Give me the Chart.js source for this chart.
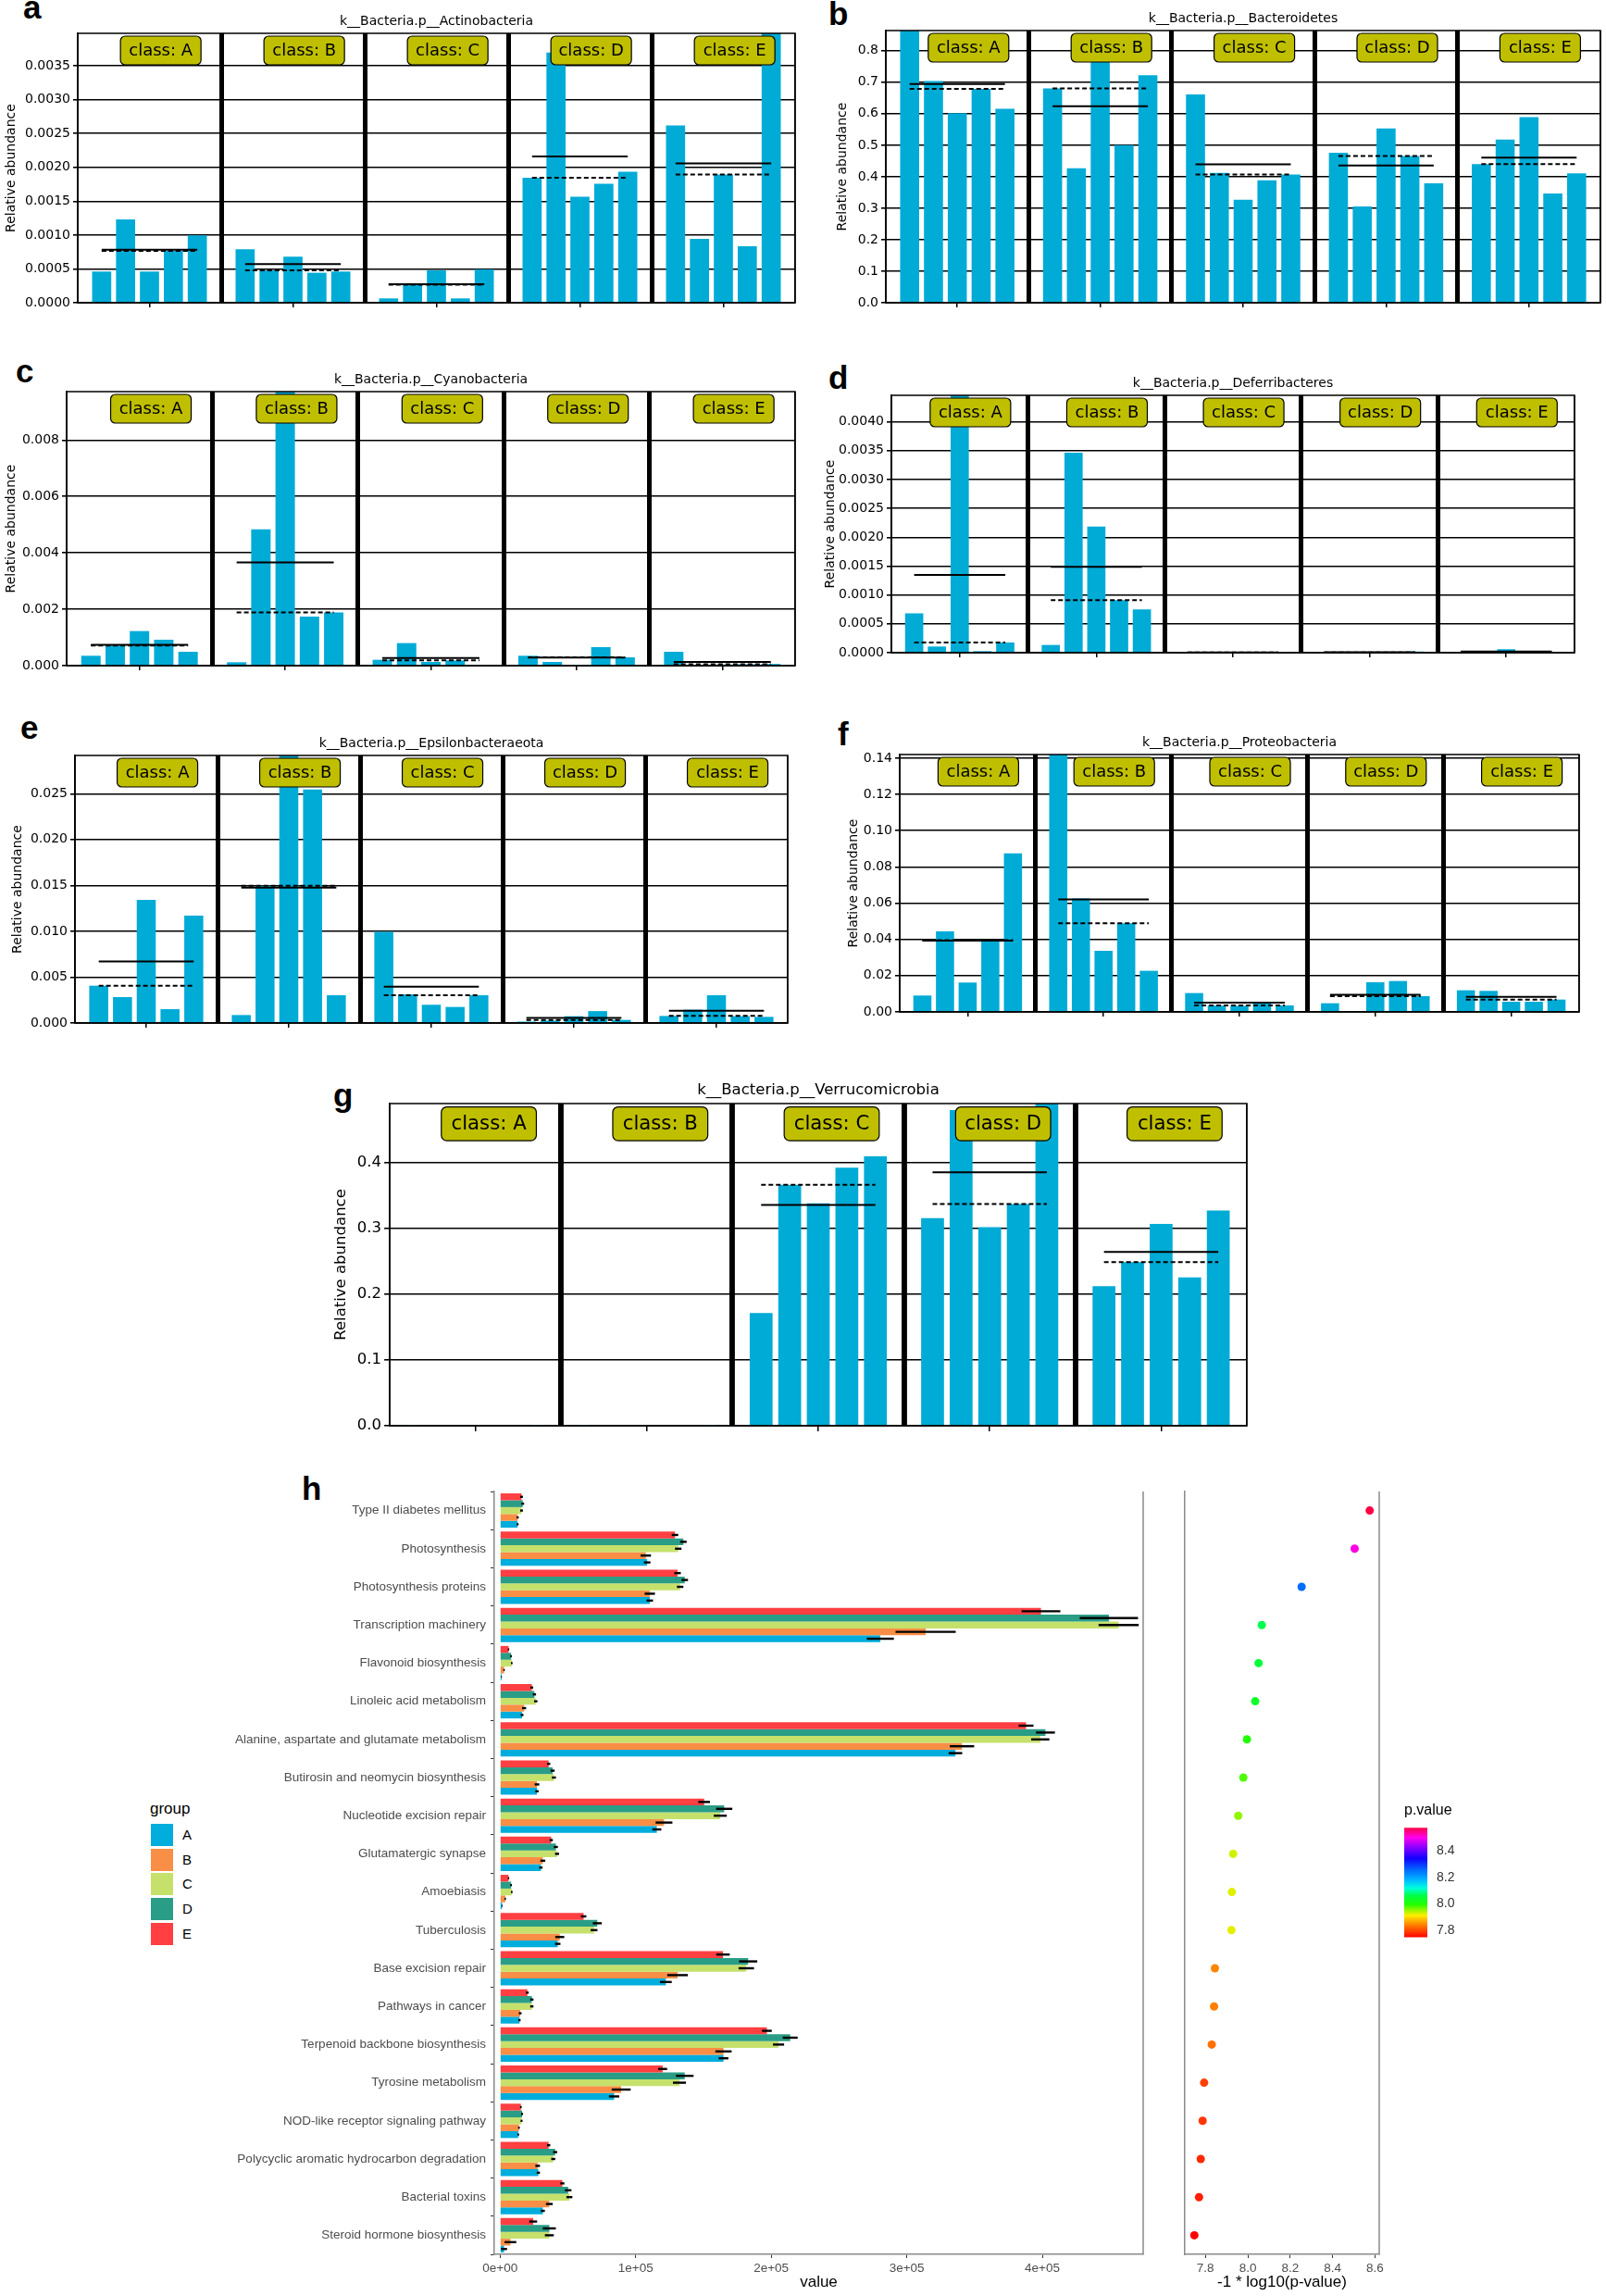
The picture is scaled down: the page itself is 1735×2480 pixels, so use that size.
<!DOCTYPE html>
<html>
<head>
<meta charset="utf-8">
<title>LEfSe phyla and KEGG pathways</title>
<script src="https://cdn.jsdelivr.net/npm/chart.js@4.4.1/dist/chart.umd.min.js"></script>
<style>
  html, body { margin: 0; padding: 0; background: #fff; }
  body { position: relative; width: 1735px; height: 2480px; overflow: hidden; }
  canvas { position: absolute; }
  .tag { position: absolute; font: bold 35px "Liberation Sans", Arial, sans-serif; line-height: 35px; color: #000; }
  #legend { position: absolute; left: 162px; top: 1944px; font-family: "Liberation Sans", Arial, sans-serif; color: #000; }
  #legend .ttl { position: absolute; left: 0; top: 0; font-size: 17px; line-height: 20px; }
  #legend .sw { position: absolute; left: 1px; width: 24px; height: 24px; }
  #legend .lb { position: absolute; left: 35px; font-size: 15px; line-height: 24px; }
</style>
</head>
<body>
<div class="tag" style="left:25px;top:-10px">a</div>
<div class="tag" style="left:895px;top:-3px">b</div>
<div class="tag" style="left:17px;top:383px">c</div>
<div class="tag" style="left:895px;top:390px">d</div>
<div class="tag" style="left:22px;top:768px">e</div>
<div class="tag" style="left:905px;top:775px">f</div>
<div class="tag" style="left:360px;top:1165px">g</div>
<div class="tag" style="left:326px;top:1590px">h</div>
<div id="legend"></div>

<script>
/* ------------------- DATA: LEfSe phyla (5 samples per class) ------------------- */
const CLASSES = ['A', 'B', 'C', 'D', 'E'];

const actinobacteria = [
  0.000461, 0.001232, 0.000461, 0.000767, 0.000995,
  0.000790, 0.000479, 0.000680, 0.000443, 0.000461,
  0.000064, 0.000265, 0.000479, 0.000064, 0.000493,
  0.001848, 0.003697, 0.001566, 0.001757, 0.001935,
  0.002620, 0.000945, 0.001894, 0.000835, 0.003990
];
const bacteroidetes = [
  0.869, 0.704, 0.602, 0.679, 0.616,
  0.680, 0.427, 0.789, 0.500, 0.722,
  0.661, 0.412, 0.327, 0.389, 0.407,
  0.476, 0.306, 0.553, 0.466, 0.379,
  0.440, 0.518, 0.589, 0.347, 0.411
];
const cyanobacteria = [
  0.000351, 0.000712, 0.001227, 0.000920, 0.000493,
  0.000120, 0.004833, 0.009720, 0.001742, 0.001885,
  0.000208, 0.000800, 0.000132, 0.000186, 0.000020,
  0.000351, 0.000132, 0.000010, 0.000658, 0.000296,
  0.000493, 0.000030, 0.000040, 0.000050, 0.000060
];
const deferribacteres = [
  0.000680, 0.000107, 0.005756, 0.000027, 0.000177,
  0.000134, 0.003464, 0.002185, 0.000910, 0.000750,
  0.000003, 0.000003, 0.000003, 0.000003, 0.000003,
  0.000005, 0.000005, 0.000005, 0.000005, 0.000020,
  0.000010, 0.000010, 0.000060, 0.000010, 0.000010
];
const epsilonbacteraeota = [
  0.00407, 0.00283, 0.01343, 0.00151, 0.01171,
  0.00087, 0.01497, 0.02946, 0.02547, 0.00303,
  0.00993, 0.00313, 0.00199, 0.00175, 0.00303,
  0.00015, 0.00027, 0.00074, 0.00130, 0.00034,
  0.00077, 0.00145, 0.00303, 0.00074, 0.00067
];
const proteobacteria = [
  0.00904, 0.04450, 0.01620, 0.03956, 0.08750,
  0.14238, 0.06258, 0.03377, 0.04894, 0.02268,
  0.01040, 0.00350, 0.00340, 0.00470, 0.00360,
  0.00478, 0.00050, 0.01637, 0.01705, 0.00870,
  0.01194, 0.01160, 0.00563, 0.00563, 0.00682
];
const verrucomicrobia = [
  0.0001, 0.0001, 0.0001, 0.0001, 0.0001,
  0.0001, 0.0001, 0.0001, 0.0001, 0.0001,
  0.1712, 0.3658, 0.3376, 0.3916, 0.4089,
  0.3151, 0.4792, 0.3015, 0.3367, 0.4900,
  0.2120, 0.2485, 0.3062, 0.2251, 0.3268
];

/* ------------------- DATA: KEGG pathways (panel h) ------------------- */
const PATHWAYS = [
  'Type II diabetes mellitus', 'Photosynthesis', 'Photosynthesis proteins',
  'Transcription machinery', 'Flavonoid biosynthesis', 'Linoleic acid metabolism',
  'Alanine, aspartate and glutamate metabolism', 'Butirosin and neomycin biosynthesis',
  'Nucleotide excision repair', 'Glutamatergic synapse', 'Amoebiasis', 'Tuberculosis',
  'Base excision repair', 'Pathways in cancer', 'Terpenoid backbone biosynthesis',
  'Tyrosine metabolism', 'NOD-like receptor signaling pathway',
  'Polycyclic aromatic hydrocarbon degradation', 'Bacterial toxins', 'Steroid hormone biosynthesis'
];
const groupA = [12900, 108500, 110400, 280500, 1000, 16200, 335900, 27200, 115600, 30100, 1400, 42500, 122300, 14300, 164800, 84100, 13400, 28200, 31500, 2900];
const groupB = [12900, 107500, 110400, 313900, 2900, 17700, 340700, 27200, 120900, 31500, 3800, 44000, 130900, 14800, 164800, 89300, 13900, 27700, 36300, 7600];
const groupC = [15800, 131400, 132800, 456300, 8600, 26300, 398500, 39700, 162400, 42000, 8600, 69300, 181600, 23400, 205400, 132300, 15800, 39200, 51100, 36300];
const groupD = [16700, 135200, 136200, 449100, 8100, 25300, 402300, 38700, 165300, 41100, 8100, 71700, 183000, 23400, 214000, 136200, 16200, 40600, 50200, 36300];
const groupE = [15800, 129000, 130900, 399000, 6200, 23400, 388000, 35800, 150500, 37700, 6200, 61600, 164400, 20100, 196800, 119900, 15300, 35800, 45900, 24400];
const errA = [700, 2400, 2400, 10000, 300, 1000, 5000, 1200, 3300, 1200, 300, 2000, 4300, 800, 3600, 3800, 600, 1200, 1500, 2200];
const errB = [800, 3800, 3800, 22200, 500, 1500, 9000, 1700, 6200, 1800, 500, 3300, 7600, 1000, 6000, 7000, 600, 1700, 2500, 4300];
const errC = [1000, 2400, 2400, 14800, 600, 1200, 6700, 1500, 4800, 1500, 600, 2500, 5700, 1200, 4100, 4800, 700, 1500, 2200, 3300];
const errD = [1000, 2400, 2400, 21500, 600, 1200, 7000, 1500, 6000, 1500, 600, 3300, 6700, 1200, 5500, 6500, 700, 1500, 2400, 4800];
const errE = [1000, 2400, 2400, 14300, 500, 1000, 5500, 1200, 4300, 1200, 500, 2000, 5000, 1000, 3600, 3300, 600, 1200, 1500, 2900];
const pValues = [8.575, 8.504, 8.254, 8.066, 8.051, 8.035, 7.996, 7.979, 7.955, 7.931, 7.925, 7.923, 7.845, 7.841, 7.830, 7.794, 7.787, 7.778, 7.770, 7.748];

const VALUE_TICKS = [0, 100000, 200000, 300000, 400000];
const PVALUE_TICKS = [7.8, 8.0, 8.2, 8.4, 8.6];
const COLORBAR_TICKS = [7.8, 8.0, 8.2, 8.4];

/* ------------------- STYLE ------------------- */
const SANS = '"DejaVu Sans", sans-serif';
const GG = '"Liberation Sans", Arial, sans-serif';
const BAR_BLUE = '#00abd6';
const BOX_FILL = '#bfbf00';
const AXIS_GREY = '#8a8a8a';
const GROUP_COLORS = { A: '#00addc', B: '#f98e46', C: '#c6e06c', D: '#2a9d86', E: '#ff3f42' };
const RAINBOW = [[0, '#ff0000'], [0.12, '#ff8800'], [0.2, '#ffee00'], [0.3, '#22ff00'], [0.38, '#00ff44'],
  [0.45, '#00ffdd'], [0.52, '#00bbff'], [0.62, '#0066ff'], [0.72, '#1100ff'], [0.82, '#8800ff'],
  [0.91, '#ff00ee'], [1, '#ff0044']];
const P_MIN = Math.min(...pValues), P_MAX = Math.max(...pValues);

const PANELS = [
  { title: 'k__Bacteria.p__Actinobacteria', values: actinobacteria, ymax: 0.00398, step: 0.0005, dec: 4, area: [84, 36, 859, 327], axisLeft: 0 },
  { title: 'k__Bacteria.p__Bacteroidetes', values: bacteroidetes, ymax: 0.864, step: 0.1, dec: 1, area: [957, 33, 1729, 327], axisLeft: 898 },
  { title: 'k__Bacteria.p__Cyanobacteria', values: cyanobacteria, ymax: 0.00972, step: 0.002, dec: 3, area: [72, 423, 859, 719], axisLeft: 0 },
  { title: 'k__Bacteria.p__Deferribacteres', values: deferribacteres, ymax: 0.00446, step: 0.0005, dec: 4, area: [963, 427, 1701, 705], axisLeft: 885 },
  { title: 'k__Bacteria.p__Epsilonbacteraeota', values: epsilonbacteraeota, ymax: 0.02917, step: 0.005, dec: 3, area: [81, 816, 851, 1105], axisLeft: 7 },
  { title: 'k__Bacteria.p__Proteobacteria', values: proteobacteria, ymax: 0.142, step: 0.02, dec: 2, area: [972, 815, 1706, 1093], axisLeft: 910 },
  { title: 'k__Bacteria.p__Verrucomicrobia', values: verrucomicrobia, ymax: 0.489, step: 0.1, dec: 1, area: [421, 1192, 1347, 1540], axisLeft: 355, scale: 1.18 }
];

/* ------------------- Helpers ------------------- */
function addCanvas(left, top, width, height) {
  const c = document.createElement('canvas');
  c.width = width;
  c.height = height;
  c.style.left = left + 'px';
  c.style.top = top + 'px';
  c.style.width = width + 'px';
  c.style.height = height + 'px';
  document.body.appendChild(c);
  return c;
}

function hexRgb(h) {
  const n = parseInt(h.slice(1), 16);
  return [n >> 16, (n >> 8) & 255, n & 255];
}

function colorFor(v) {
  const f = Math.min(1, Math.max(0, (v - P_MIN) / (P_MAX - P_MIN)));
  for (let i = 1; i < RAINBOW.length; i++) {
    const [f1, c1] = RAINBOW[i];
    if (f <= f1) {
      const [f0, c0] = RAINBOW[i - 1];
      const t = (f - f0) / (f1 - f0);
      const a = hexRgb(c0), b = hexRgb(c1);
      return `rgb(${a.map((x, k) => Math.round(x + (b[k] - x) * t)).join(',')})`;
    }
  }
  return RAINBOW[RAINBOW.length - 1][1];
}

function sci(v) {
  if (Math.abs(v) < 1e-9) return '0e+00';
  const e = Math.floor(Math.log10(v));
  const m = Math.round(v / Math.pow(10, e));
  return `${m}e+${String(e).padStart(2, '0')}`;
}

const fixedTicks = list => axis => { axis.ticks = list.map(value => ({ value })); };

/* ------------------- Plugins ------------------- */
// frame + "class: X" boxes on top of the LEfSe panels
const lefseDecor = {
  id: 'lefseDecor',
  afterDraw(chart, args, opts) {
    const { ctx, chartArea: a, scales: { x } } = chart;
    const s = opts.scale || 1;
    ctx.save();
    ctx.strokeStyle = '#000';
    ctx.lineWidth = 1.5;
    ctx.strokeRect(a.left, a.top, a.right - a.left, a.bottom - a.top);
    CLASSES.forEach((c, k) => {
      const cx = x.getPixelForValue(6 * k + 3.47);
      const w = 87 * s, h = 31 * s, y0 = a.top + 3 * s;
      ctx.beginPath();
      ctx.roundRect(cx - w / 2, y0, w, h, 5 * s);
      ctx.fillStyle = BOX_FILL;
      ctx.fill();
      ctx.lineWidth = 1.2;
      ctx.stroke();
      ctx.fillStyle = '#000';
      ctx.font = `${18 * s}px ${SANS}`;
      ctx.textAlign = 'center';
      ctx.textBaseline = 'middle';
      ctx.fillText('class: ' + c, cx, y0 + h / 2 + 1);
    });
    ctx.restore();
  }
};

const errorBars = {
  id: 'errorBars',
  afterDatasetsDraw(chart) {
    const { ctx, scales: { x } } = chart;
    ctx.save();
    ctx.strokeStyle = '#000';
    ctx.lineWidth = 2.4;
    chart.data.datasets.forEach((ds, i) => {
      chart.getDatasetMeta(i).data.forEach((bar, j) => {
        const v = ds.data[j], e = ds.errors[j];
        ctx.beginPath();
        ctx.moveTo(x.getPixelForValue(v - e), bar.y);
        ctx.lineTo(x.getPixelForValue(v + e), bar.y);
        ctx.stroke();
      });
    });
    ctx.restore();
  }
};

const rightBorder = {
  id: 'rightBorder',
  afterDraw(chart) {
    const { ctx, chartArea: a } = chart;
    ctx.save();
    ctx.strokeStyle = AXIS_GREY;
    ctx.lineWidth = 1.5;
    ctx.beginPath();
    ctx.moveTo(a.right, a.top);
    ctx.lineTo(a.right, a.bottom);
    ctx.stroke();
    ctx.restore();
  }
};

/* ------------------- LEfSe panels a-g ------------------- */
function drawLefse(p) {
  const s = p.scale || 1;
  const [L, T, R, B] = p.area;
  const titleBlock = Math.round(36 * s);
  const left = p.axisLeft, top = T - titleBlock;
  const cv = addCanvas(left, top, R + 6 - left, B + 18 - top);

  const slots = CLASSES.length * 6 + 1;
  const bars = Array(slots).fill(null);
  const means = Array(slots).fill(null);
  const medians = Array(slots).fill(null);
  CLASSES.forEach((c, k) => {
    const vals = p.values.slice(k * 5, k * 5 + 5);
    const mean = vals.reduce((a, b) => a + b, 0) / vals.length;
    const median = [...vals].sort((a, b) => a - b)[2];
    vals.forEach((v, j) => {
      const i = 6 * k + 1 + j;
      bars[i] = v; means[i] = mean; medians[i] = median;
    });
  });

  new Chart(cv, {
    type: 'bar',
    data: {
      labels: bars.map((_, i) => String(i)),
      datasets: [
        { type: 'line', data: means, borderColor: '#000', borderWidth: 2, pointRadius: 0, order: 1 },
        { type: 'line', data: medians, borderColor: '#000', borderWidth: 2, borderDash: [5, 3], pointRadius: 0, order: 1 },
        { data: bars, backgroundColor: BAR_BLUE, borderWidth: 0, barPercentage: 0.8, categoryPercentage: 1, order: 2 }
      ]
    },
    options: {
      responsive: false,
      animation: false,
      events: [],
      layout: { padding: { top: 0, right: 6, bottom: 10, left: 0 } },
      plugins: {
        legend: { display: false },
        tooltip: { enabled: false },
        title: {
          display: true, text: p.title, color: '#000', fullSize: false,
          font: { family: SANS, size: 14 * s, weight: 'normal' },
          padding: { top: titleBlock - 16.8 * s - 4.6, bottom: 4.6 }
        },
        lefseDecor: { scale: s }
      },
      scales: {
        x: {
          type: 'category',
          offset: false,
          grid: {
            offset: false,
            tickLength: 5 * s,
            tickWidth: 1.5,
            color: c => (c.index % 6 === 0 ? '#000' : 'rgba(0,0,0,0)'),
            lineWidth: c => (c.index % 6 === 0 && c.index > 0 && c.index < slots - 1 ? 5 * s : 1.5),
            tickColor: c => (c.index % 6 === 3 ? '#000' : 'rgba(0,0,0,0)')
          },
          ticks: { display: false, autoSkip: false },
          border: { color: '#000', width: 1.5 },
          afterFit: a => { a.height = 8; }
        },
        y: {
          min: 0,
          max: p.ymax,
          z: 1,
          ticks: {
            stepSize: p.step, includeBounds: false, color: '#000', padding: 3,
            font: { family: SANS, size: 14 * s },
            callback: v => v.toFixed(p.dec)
          },
          grid: { color: '#000', lineWidth: 1.6, tickLength: 5 * s, tickColor: '#000' },
          border: { color: '#000', width: 1.5 },
          title: {
            display: true, text: 'Relative abundance', color: '#000',
            font: { family: SANS, size: 14 * s }, padding: { top: 4, bottom: 0 }
          },
          afterFit: a => { a.width = L - left; }
        }
      }
    },
    plugins: [lefseDecor]
  });
}

/* ------------------- Panel h: grouped bars ------------------- */
function drawPathwayBars() {
  const cv = addCanvas(150, 1590, 1100, 890);
  const series = [
    ['E', groupE, errE], ['D', groupD, errD], ['C', groupC, errC], ['B', groupB, errB], ['A', groupA, errA]
  ];
  new Chart(cv, {
    type: 'bar',
    data: {
      labels: PATHWAYS,
      datasets: series.map(([g, vals, errs]) => ({
        label: g, data: vals, errors: errs, backgroundColor: GROUP_COLORS[g], borderWidth: 0,
        categoryPercentage: 0.9, barPercentage: 1
      }))
    },
    options: {
      indexAxis: 'y',
      responsive: false,
      animation: false,
      events: [],
      layout: { padding: { top: 21, right: 15, bottom: 0, left: 0 } },
      plugins: { legend: { display: false }, tooltip: { enabled: false } },
      scales: {
        x: {
          type: 'linear', min: -4300, max: 474400,
          afterBuildTicks: fixedTicks(VALUE_TICKS),
          ticks: { color: '#4d4d4d', padding: 3, font: { family: GG, size: 13.5 }, callback: v => sci(v) },
          grid: { drawOnChartArea: false, tickLength: 4, tickColor: '#333' },
          border: { color: AXIS_GREY, width: 1.5 },
          title: { display: true, text: 'value', color: '#000', font: { family: GG, size: 17 }, padding: { top: 0, bottom: 4 } },
          afterFit: a => { a.height = 45; }
        },
        y: {
          ticks: { color: '#4d4d4d', padding: 5, autoSkip: false, font: { family: GG, size: 13.5 } },
          grid: { drawOnChartArea: false, tickLength: 4, tickColor: '#333' },
          border: { color: AXIS_GREY, width: 1.5 },
          afterFit: a => { a.width = 384; }
        }
      }
    },
    plugins: [errorBars, rightBorder]
  });
}

/* ------------------- Panel h: p-value dots ------------------- */
function drawPValues() {
  const cv = addCanvas(1270, 1590, 230, 890);
  new Chart(cv, {
    type: 'scatter',
    data: {
      datasets: [{
        data: PATHWAYS.map((p, i) => ({ x: pValues[i], y: p })),
        pointBackgroundColor: pValues.map(colorFor),
        pointBorderWidth: 0,
        pointRadius: 4.5
      }]
    },
    options: {
      responsive: false,
      animation: false,
      events: [],
      layout: { padding: { top: 21, right: 10, bottom: 0, left: 0 } },
      plugins: { legend: { display: false }, tooltip: { enabled: false } },
      scales: {
        x: {
          type: 'linear', min: 7.703, max: 8.62,
          afterBuildTicks: fixedTicks(PVALUE_TICKS),
          ticks: { color: '#4d4d4d', padding: 3, font: { family: GG, size: 13.5 }, callback: v => v.toFixed(1) },
          grid: { drawOnChartArea: false, tickLength: 4, tickColor: '#333' },
          border: { color: AXIS_GREY, width: 1.5 },
          title: { display: true, text: '-1 * log10(p-value)', color: '#000', font: { family: GG, size: 17 }, padding: { top: 0, bottom: 4 } },
          afterFit: a => { a.height = 45; }
        },
        y: {
          type: 'category', labels: PATHWAYS, offset: true,
          ticks: { display: false },
          grid: { display: false },
          border: { color: AXIS_GREY, width: 1.5 },
          afterFit: a => { a.width = 10; }
        }
      }
    },
    plugins: [rightBorder]
  });
}

/* ------------------- Colour bar ------------------- */
function rainbowGradient(chart) {
  const a = chart.chartArea;
  if (!a) return RAINBOW[0][1];
  const g = chart.ctx.createLinearGradient(0, a.bottom, 0, a.top);
  RAINBOW.forEach(([f, c]) => g.addColorStop(f, c));
  return g;
}

function drawColorBar() {
  const cv = addCanvas(1510, 1946, 110, 165);
  new Chart(cv, {
    type: 'bar',
    data: {
      labels: [''],
      datasets: [{
        data: [[P_MIN, P_MAX]],
        backgroundColor: ctx => rainbowGradient(ctx.chart),
        borderWidth: 0, barPercentage: 1, categoryPercentage: 1
      }]
    },
    options: {
      responsive: false,
      animation: false,
      events: [],
      layout: { padding: { top: 0, right: 0, bottom: 10, left: 7 } },
      plugins: {
        legend: { display: false },
        tooltip: { enabled: false },
        title: { display: true, text: 'p.value', align: 'start', color: '#000',
          font: { family: GG, size: 16, weight: 'normal' }, padding: { top: 0, bottom: 9 } }
      },
      scales: {
        x: { display: false },
        y: {
          position: 'right', min: P_MIN, max: P_MAX,
          afterBuildTicks: fixedTicks(COLORBAR_TICKS),
          ticks: { color: '#333', padding: 10, font: { family: GG, size: 14 }, callback: v => v.toFixed(1) },
          grid: { display: false, drawTicks: false },
          border: { display: false },
          afterFit: a => { a.width = 78; }
        }
      }
    }
  });
}

/* ------------------- Group legend ------------------- */
function drawLegend() {
  const box = document.getElementById('legend');
  box.innerHTML = '<div class="ttl">group</div>' + CLASSES.map((g, i) => `
    <div class="sw" style="top:${26 + i * 26.7}px;background:${GROUP_COLORS[g]}"></div>
    <div class="lb" style="top:${26 + i * 26.7}px">${g}</div>`).join('');
}

/* ------------------- Init ------------------- */
PANELS.forEach(drawLefse);
drawPathwayBars();
drawPValues();
drawColorBar();
drawLegend();
</script>
</body>
</html>
